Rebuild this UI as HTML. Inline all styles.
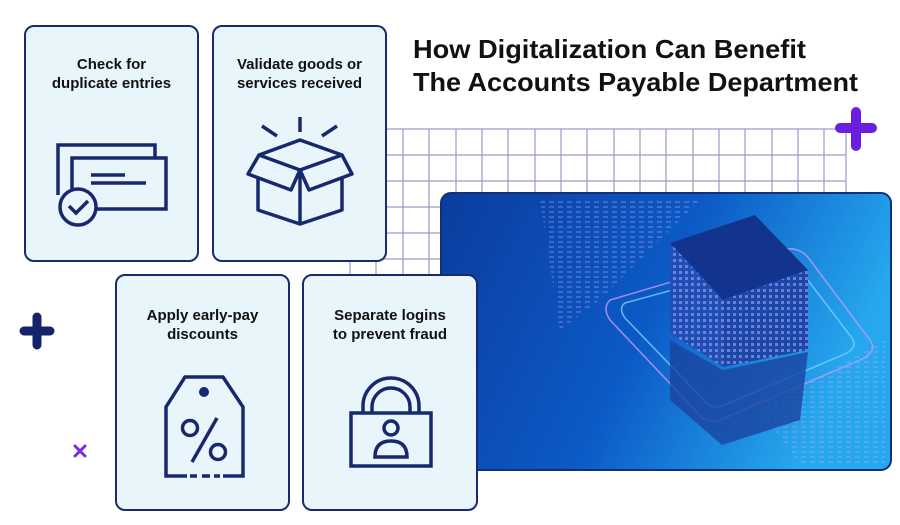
<!DOCTYPE html>
<html><head><meta charset="utf-8"><style>
html,body{margin:0;padding:0;background:#fff;width:900px;height:525px;overflow:hidden}
svg{display:block}
text{font-family:"Liberation Sans",sans-serif;fill:#111}
</style></head><body>
<svg width="900" height="525" viewBox="0 0 900 525" xmlns="http://www.w3.org/2000/svg">
<defs>
<linearGradient id="bg" x1="0" y1="0" x2="1" y2="0.3">
<stop offset="0" stop-color="#0b3c9e"/><stop offset="0.55" stop-color="#0c5ac6"/><stop offset="1" stop-color="#26a8ee"/>
</linearGradient>
<pattern id="dots" width="9" height="5" patternUnits="userSpaceOnUse">
<rect x="0" y="1" width="5" height="2" fill="#b9a8ff" opacity="0.5"/>
</pattern>
<pattern id="cub" width="6" height="6" patternUnits="userSpaceOnUse">
<rect x="1" y="1" width="3" height="3" fill="#b8a6ff" opacity="0.55"/>
</pattern>
</defs>
<g stroke="#9a9cc6" stroke-width="1.2" fill="none">
<path d="M350 129H846 M350 155H846 M350 181H846 M350 207H846 M350 233H846 M350 259H846 M350 285H846"/>
<path d="M350 129V300 M376 129V300 M403 129V300 M429 129V300 M456 129V300 M482 129V300 M508 129V300 M535 129V300 M561 129V300 M587 129V300 M614 129V300 M640 129V300 M666 129V300 M693 129V300 M719 129V300 M745 129V300 M772 129V300 M798 129V300 M824 129V300 M846 129V300"/>
</g>
<rect x="441" y="193" width="450" height="277" rx="10" fill="url(#bg)" stroke="#12307a" stroke-width="2"/>
<g opacity="0.6">
<polygon points="540,200 700,200 600,300 560,330" fill="url(#dots)"/>
<polygon points="760,410 885,340 885,465 800,465" fill="url(#dots)"/>
</g>
<g fill="none" stroke="#c59cf5" stroke-width="1.5" opacity="0.8">
<path d="M610 300 L780 250 Q800 245 810 260 L870 340 Q878 352 860 360 L720 420 Q705 425 695 410 L610 320 Q602 308 610 300Z"/>
<path d="M625 303 L775 262 Q792 258 800 270 L852 338 Q858 348 845 354 L722 406 Q710 410 702 398 L625 318 Q618 308 625 303Z" stroke="#7fd0ff"/>
</g>
<polygon points="670,243 755,215 808,270 723,300" fill="#12348f"/>
<polygon points="670,243 723,300 723,367 670,333" fill="#1d4fb5"/>
<polygon points="670,243 723,300 723,367 670,333" fill="url(#cub)"/>
<polygon points="723,300 808,270 808,350 723,367" fill="#1a48a8"/>
<polygon points="723,300 808,270 808,350 723,367" fill="url(#cub)"/>
<polygon points="670,340 723,370 808,352 800,420 722,445 670,400" fill="#1a44a0" opacity="0.8"/>
<rect x="25" y="26" width="173" height="235" rx="9" fill="#e8f6fc" stroke="#1b2a70" stroke-width="2"/>
<text x="111.5" y="69" font-size="15" font-weight="bold" text-anchor="middle">Check for</text>
<text x="111.5" y="88" font-size="15" font-weight="bold" text-anchor="middle">duplicate entries</text>
<g fill="none" stroke="#17286e" stroke-width="3.5">
<path d="M58 195 V145 H155 V158"/>
<rect x="72" y="158" width="94" height="51"/>
<path d="M91 175 H125 M91 183 H146"/>
<circle cx="78" cy="207" r="18" fill="#e8f6fc"/>
<path d="M69 206 L76 213 L88 201"/>
</g>
<rect x="213" y="26" width="173" height="235" rx="9" fill="#e8f6fc" stroke="#1b2a70" stroke-width="2"/>
<text x="299.5" y="69" font-size="15" font-weight="bold" text-anchor="middle">Validate goods or</text>
<text x="299.5" y="88" font-size="15" font-weight="bold" text-anchor="middle">services received</text>
<g fill="none" stroke="#17286e" stroke-width="3.5" stroke-linejoin="round">
<path d="M300 117 V132 M262 126 L277 136 M337 126 L322 136"/>
<path d="M259 155 L300 140 L342 155 L300 170 Z"/>
<path d="M259 155 L248 174 L291 190 L300 170 L309 190 L352 174 L342 155"/>
<path d="M258 178 V210 L300 224 L342 210 V178 M300 170 V224"/>
</g>
<rect x="116" y="275" width="173" height="235" rx="9" fill="#e8f6fc" stroke="#1b2a70" stroke-width="2"/>
<text x="202.5" y="320" font-size="15" font-weight="bold" text-anchor="middle">Apply early-pay</text>
<text x="202.5" y="339" font-size="15" font-weight="bold" text-anchor="middle">discounts</text>
<g fill="none" stroke="#17286e" stroke-width="3.5">
<path d="M187 476 H166 V407 L185 377 H223 L243 407 V476 H223"/>
<path d="M190 476 H197 M202 476 H210 M214 476 H220"/>
<circle cx="190" cy="428" r="7.5"/>
<circle cx="218" cy="452" r="7.5"/>
<path d="M217 418 L192 462"/>
</g>
<circle cx="204" cy="392" r="5" fill="#17286e"/>
<rect x="303" y="275" width="174" height="235" rx="9" fill="#e8f6fc" stroke="#1b2a70" stroke-width="2"/>
<text x="390" y="320" font-size="15" font-weight="bold" text-anchor="middle">Separate logins</text>
<text x="390" y="339" font-size="15" font-weight="bold" text-anchor="middle">to prevent fraud</text>
<g fill="none" stroke="#17286e" stroke-width="3.5">
<path d="M363 413 V406 A28 28 0 0 1 419 406 V413"/>
<path d="M372 413 V407 A19 19 0 0 1 410 407 V413"/>
<rect x="351" y="413" width="80" height="53"/>
<circle cx="391" cy="428" r="7"/>
<path d="M375 457 Q375 441 391 441 Q407 441 407 457 Z"/>
</g>
<text x="413" y="58" font-size="26" font-weight="bold" textLength="393" lengthAdjust="spacingAndGlyphs">How Digitalization Can Benefit</text>
<text x="413" y="91" font-size="26" font-weight="bold" textLength="445" lengthAdjust="spacingAndGlyphs">The Accounts Payable Department</text>
<g stroke="#6a1fe0" stroke-width="10" stroke-linecap="round">
<path d="M840 128 H872 M856 112 V146"/>
</g>
<g stroke="#14236a" stroke-width="9" stroke-linecap="round">
<path d="M24 331 H50 M37 317 V345"/>
</g>
<g stroke="#7a2be8" stroke-width="3" stroke-linecap="round">
<path d="M75 446 L85 456 M85 446 L75 456"/>
</g>
</svg>
</body></html>
